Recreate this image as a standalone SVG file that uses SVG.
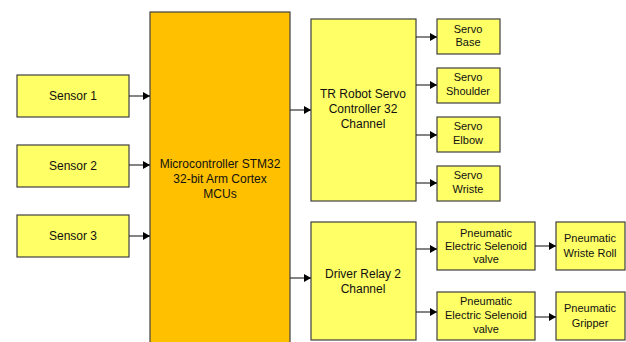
<svg xmlns="http://www.w3.org/2000/svg" width="626" height="342" viewBox="0 0 626 342">
<defs>
<marker id="ah" markerWidth="7" markerHeight="8" refX="7" refY="4" orient="auto" markerUnits="userSpaceOnUse">
<path d="M0,0 L7,4 L0,8 Z" fill="#000"/>
</marker>
<style>
.b{fill:#FFFF66;stroke:#404040;stroke-width:1.2}
.m{fill:#FFC000;stroke:#404040;stroke-width:1.2}
text{font-family:"Liberation Sans",Arial,sans-serif;fill:#111;text-anchor:middle}
.l{font-size:12px}
.s{font-size:11px}
.c line{stroke:#333;stroke-width:1.2;marker-end:url(#ah)}
</style>
</defs>
<rect width="626" height="342" fill="#fff"/>
<g id="sensor1"><rect class="b" x="17" y="75" width="112" height="42"/><text class="l" x="73" y="100">Sensor 1</text></g>
<g id="sensor2"><rect class="b" x="17" y="145" width="112" height="42"/><text class="l" x="73" y="170">Sensor 2</text></g>
<g id="sensor3"><rect class="b" x="17" y="215" width="112" height="42"/><text class="l" x="73" y="240">Sensor 3</text></g>
<g id="mcu"><rect class="m" x="150" y="12" width="140" height="340"/>
<text class="l" x="220" y="168">Microcontroller STM32</text>
<text class="l" x="220" y="183">32-bit Arm Cortex</text>
<text class="l" x="220" y="198">MCUs</text></g>
<g id="servoctl"><rect class="b" x="311" y="19" width="105" height="182"/>
<text class="l" x="363" y="98">TR Robot Servo</text>
<text class="l" x="363" y="113">Controller 32</text>
<text class="l" x="363" y="128">Channel</text></g>
<g id="relay"><rect class="b" x="311" y="222" width="105" height="118"/>
<text class="l" x="363" y="278">Driver Relay 2</text>
<text class="l" x="363" y="293">Channel</text></g>
<g id="servobase"><rect class="b" x="437" y="19" width="63" height="35"/>
<text class="s" x="468" y="33">Servo</text><text class="s" x="468" y="46">Base</text></g>
<g id="servoshoulder"><rect class="b" x="437" y="68" width="63" height="35"/>
<text class="s" x="468" y="81">Servo</text><text class="s" x="468" y="95">Shoulder</text></g>
<g id="servoelbow"><rect class="b" x="437" y="117" width="63" height="35"/>
<text class="s" x="468" y="130">Servo</text><text class="s" x="468" y="144">Elbow</text></g>
<g id="servowriste"><rect class="b" x="437" y="166" width="63" height="35"/>
<text class="s" x="468" y="179">Servo</text><text class="s" x="468" y="193">Wriste</text></g>
<g id="valve1"><rect class="b" x="437" y="222" width="98" height="48"/>
<text class="s" x="486" y="237">Pneumatic</text><text class="s" x="486" y="250">Electric Selenoid</text><text class="s" x="486" y="263">valve</text></g>
<g id="valve2"><rect class="b" x="437" y="292" width="98" height="48"/>
<text class="s" x="486" y="305">Pneumatic</text><text class="s" x="486" y="319">Electric Selenoid</text><text class="s" x="486" y="333">valve</text></g>
<g id="wristroll"><rect class="b" x="556" y="222" width="69" height="48"/>
<text class="s" x="590" y="242">Pneumatic</text><text class="s" x="590" y="257">Wriste Roll</text></g>
<g id="gripper"><rect class="b" x="556" y="292" width="69" height="48"/>
<text class="s" x="590" y="312">Pneumatic</text><text class="s" x="590" y="327">Gripper</text></g>
<g id="connectors" class="c">
<line x1="129" y1="96" x2="150" y2="96"/>
<line x1="129" y1="165" x2="150" y2="165"/>
<line x1="129" y1="236" x2="150" y2="236"/>
<line x1="290" y1="110" x2="311" y2="110"/>
<line x1="290" y1="278" x2="311" y2="278"/>
<line x1="416" y1="37" x2="437" y2="37"/>
<line x1="416" y1="85" x2="437" y2="85"/>
<line x1="416" y1="135" x2="437" y2="135"/>
<line x1="416" y1="183" x2="437" y2="183"/>
<line x1="416" y1="249" x2="437" y2="249"/>
<line x1="416" y1="312" x2="437" y2="312"/>
<line x1="535" y1="246" x2="556" y2="246"/>
<line x1="535" y1="317" x2="556" y2="317"/>
</g>
</svg>
